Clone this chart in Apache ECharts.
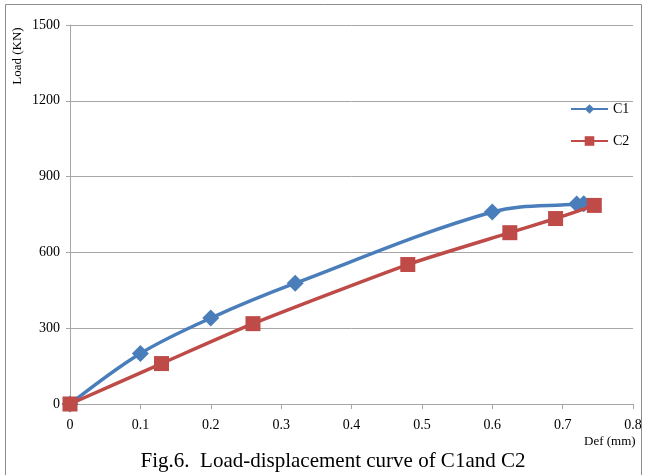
<!DOCTYPE html>
<html><head><meta charset="utf-8">
<script src="https://cdn.jsdelivr.net/npm/echarts@6/dist/echarts.min.js"></script>
<style>html,body{margin:0;padding:0;background:#fff}#c{width:647px;height:475px}</style>
</head><body><div id="c"></div>
<script>
const seriesNames = ['C1', 'C2'];
const c1Def = [0, 0.1, 0.2, 0.32, 0.6, 0.72, 0.73];
const c1Load = [0, 200, 340, 478, 760, 792, 793];
const c2Def = [0, 0.13, 0.26, 0.48, 0.625, 0.69, 0.745];
const c2Load = [0, 160, 318, 552, 678, 734, 786];
const xTicks = [0, 0.1, 0.2, 0.3, 0.4, 0.5, 0.6, 0.7, 0.8];
const yTicks = [0, 300, 600, 900, 1200, 1500];
const xName = 'Def (mm)';
const yName = 'Load (KN)';
const caption = 'Fig.6.  Load-displacement curve of C1and C2';

const F = '"Liberation Serif", "Times New Roman", serif';
const chart = echarts.init(document.getElementById('c'), null, {renderer: 'canvas'});
const pair = (xs, ys) => xs.map((x, i) => [x, ys[i]]);
chart.setOption({
  animation: false,
  grid: {left: 70, right: 14, top: 25, bottom: 71, containLabel: false},
  legend: {
    orient: 'vertical', left: 565, top: 97, itemWidth: 37, itemHeight: 12, itemGap: 18,
    textStyle: {fontFamily: F, fontSize: 14, color: '#000'},
    data: seriesNames
  },
  xAxis: {
    type: 'value', min: xTicks[0], max: xTicks[xTicks.length - 1], interval: 0.1,
    axisLine: {lineStyle: {color: '#a6a6a6', width: 1}},
    axisTick: {show: true, length: 5, inside: false, lineStyle: {color: '#a6a6a6'}},
    axisLabel: {fontFamily: F, fontSize: 14, color: '#000', margin: 14,
      formatter: v => String(+v.toFixed(1))},
    splitLine: {show: false}
  },
  yAxis: {
    type: 'value', min: yTicks[0], max: yTicks[yTicks.length - 1], interval: 300,
    axisLine: {show: true, lineStyle: {color: '#a6a6a6', width: 1}},
    axisTick: {show: true, length: 4, lineStyle: {color: '#a6a6a6'}},
    axisLabel: {fontFamily: F, fontSize: 14, color: '#000', margin: 10,
      formatter: v => String(v)},
    splitLine: {show: true, lineStyle: {color: '#a6a6a6', width: 1}}
  },
  series: [
    {name: seriesNames[0], type: 'line', smooth: 0.35, data: pair(c1Def, c1Load),
      symbol: 'diamond', symbolSize: 17,
      lineStyle: {color: '#4a7ebb', width: 3.5}, itemStyle: {color: '#4a7ebb'}, z: 3},
    {name: seriesNames[1], type: 'line', smooth: 0.2, data: pair(c2Def, c2Load),
      symbol: 'rect', symbolSize: 15,
      lineStyle: {color: '#be4b48', width: 3.5}, itemStyle: {color: '#be4b48'}, z: 4}
  ],
  graphic: [
    {type: 'rect', shape: {x: 5.5, y: 4.5, width: 636, height: 480}, style: {fill: 'none', stroke: '#8c8c8c', lineWidth: 1}, silent: true},
    {type: 'text', x: 18, y: 56, rotation: Math.PI / 2,
      style: {text: yName, font: '13px ' + F, fill: '#000', textAlign: 'center', textVerticalAlign: 'middle'}},
    {type: 'text', x: 584, y: 442,
      style: {text: xName, font: '13px ' + F, fill: '#000', textAlign: 'left', textVerticalAlign: 'middle'}},
    {type: 'text', x: 333, y: 461,
      style: {text: caption, font: '21px ' + F, fill: '#000', textAlign: 'center', textVerticalAlign: 'middle'}}
  ]
});
</script></body></html>
